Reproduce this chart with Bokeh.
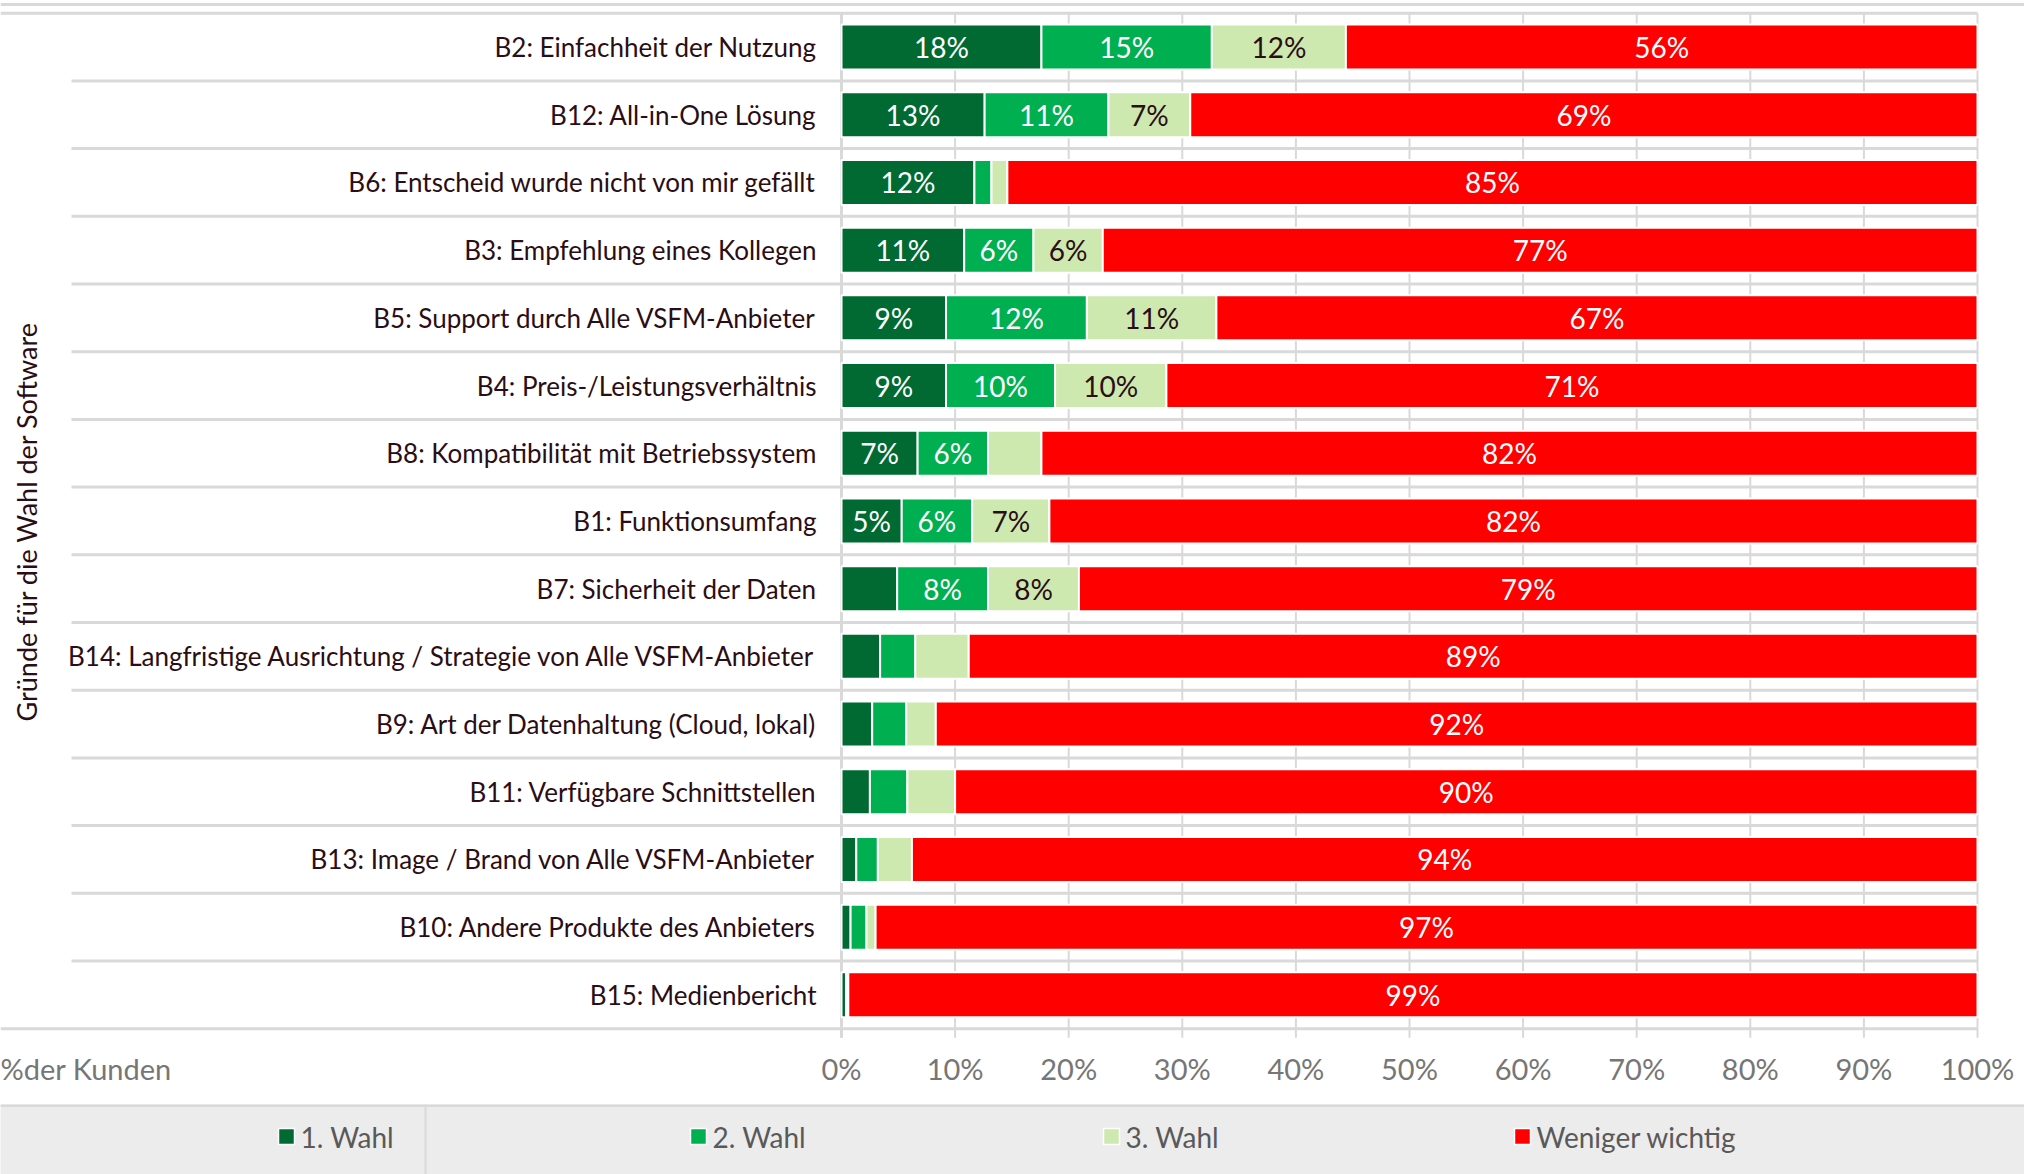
import math
from bokeh.plotting import figure
from bokeh.models import Range1d, ColumnDataSource, FixedTicker, CustomJSTickFormatter
from bokeh.layouts import column
from bokeh.embed import file_html
from bokeh.resources import INLINE
from bokeh.core.properties import value

# ---------------- data ----------------
categories = [
    "B2: Einfachheit der Nutzung",
    "B12: All-in-One Lösung",
    "B6: Entscheid wurde nicht von mir gefällt",
    "B3: Empfehlung eines Kollegen",
    "B5: Support durch Alle VSFM-Anbieter",
    "B4: Preis-/Leistungsverhältnis",
    "B8: Kompatibilität mit Betriebssystem",
    "B1: Funktionsumfang",
    "B7: Sicherheit der Daten",
    "B14: Langfristige Ausrichtung / Strategie von Alle VSFM-Anbieter",
    "B9: Art der Datenhaltung (Cloud, lokal)",
    "B11: Verfügbare Schnittstellen",
    "B13: Image / Brand von Alle VSFM-Anbieter",
    "B10: Andere Produkte des Anbieters",
    "B15: Medienbericht",
]
wahl1 = [17.6, 12.6, 11.7, 10.8, 9.2, 9.2, 6.7, 5.3, 4.9, 3.4, 2.7, 2.5, 1.3, 0.8, 0.4]
wahl2 = [15.0, 10.9, 1.5, 6.1, 12.4, 9.6, 6.2, 6.2, 8.0, 3.1, 3.0, 3.3, 1.9, 1.4, 0.1]
wahl3 = [11.8, 7.2, 1.4, 6.1, 11.4, 9.8, 4.7, 6.8, 8.0, 4.7, 2.6, 4.2, 3.0, 0.8, 0.1]
weniger = [55.6, 69.3, 85.4, 77.0, 67.0, 71.4, 82.4, 81.7, 79.1, 88.8, 91.7, 90.0, 93.8, 97.0, 99.4]

series_names = ["1. Wahl", "2. Wahl", "3. Wahl", "Weniger wichtig"]
series_keys = ["wahl1", "wahl2", "wahl3", "weniger"]
series_colors = ["#006a32", "#00b050", "#cde9af", "#ff0000"]
label_colors = ["#ffffff", "#ffffff", "#2b0d14", "#ffffff"]

x_ticks = [0, 10, 20, 30, 40, 50, 60, 70, 80, 90, 100]
y_title = "Gründe für die Wahl der Software"
x_title = "%der Kunden"

# ---------------- layout constants ----------------
FONT = "Lato"
W = 2024
PX = 11.36          # pixels per percent
X0 = 841            # canvas x of 0 %
ROW = 67.7          # pixels per row
ROW0 = 46.55        # canvas y of first row centre
FRAME_H = 1040
MAIN_H = 1104
LG_H = 70

n = len(categories)
ys = list(range(n))

src = ColumnDataSource(dict(y=ys, cat=categories, wahl1=wahl1, wahl2=wahl2,
                            wahl3=wahl3, weniger=weniger))

p = figure(width=W, height=MAIN_H,
           x_range=Range1d(-X0 / PX, (W - X0) / PX),
           y_range=Range1d((FRAME_H - ROW0) / ROW, -ROW0 / ROW),
           output_backend="svg", toolbar_location=None,
           min_border_left=0, min_border_right=0, min_border_top=0,
           min_border_bottom=MAIN_H - FRAME_H,
           y_axis_location=None, outline_line_color=None,
           background_fill_color="white", border_fill_color="white")
p.grid.grid_line_color = None

GRID = "#d9d9d9"
left_edge = -X0 / PX
sep_left = (71 - X0) / PX
tick_bottom = n - 0.5 + 9 / ROW

# top border line
p.segment(x0=[left_edge], y0=[(4 - ROW0) / ROW], x1=[(W - X0) / PX], y1=[(4 - ROW0) / ROW],
          line_color=GRID, line_width=3)
# vertical gridlines (incl. tick extension below)
p.segment(x0=x_ticks, y0=[-0.5] * len(x_ticks), x1=x_ticks,
          y1=[tick_bottom] * len(x_ticks), line_color=GRID, line_width=2)
# row separators
bounds = [i - 0.5 for i in range(n + 1)]
x0s = [left_edge if (b == -0.5 or b == n - 0.5) else sep_left for b in bounds]
p.segment(x0=x0s, y0=bounds, x1=[100] * len(bounds), y1=bounds,
          line_color=GRID, line_width=3)
# axis line at 0
p.segment(x0=[0], y0=[-0.5], x1=[0], y1=[tick_bottom],
          line_color=GRID, line_width=3)

# stacked bars
p.hbar_stack(series_keys, y="y", height=0.665, source=src,
             fill_color=series_colors, line_color="white", line_width=2)

# value labels
lx, ly, lt, lc = [], [], [], []
for i in range(n):
    left = 0.0
    for k, key in enumerate(series_keys):
        v = src.data[key][i]
        if v >= 5:
            lx.append(left + v / 2)
            ly.append(i)
            lt.append(f"{round(v)}%")
            lc.append(label_colors[k])
        left += v
p.text(x=lx, y=ly, text=lt, text_color=lc, text_align="center",
       text_baseline="middle", text_font=value(FONT), text_font_size="28px")

# category labels
p.text(x=[(816 - X0) / PX] * n, y=ys, text=categories, text_align="right",
       text_baseline="middle", text_color="#2b0d14",
       text_font=value(FONT), text_font_size="26px")

# y title
p.text(x=[(26 - X0) / PX], y=[(521 - ROW0) / ROW], text=[y_title], angle=math.pi / 2,
       text_align="center", text_baseline="middle", text_color="#2b0d14",
       text_font=value(FONT), text_font_size="27px")

# x axis
xa = p.xaxis[0]
xa.ticker = FixedTicker(ticks=[-67.5] + x_ticks)
xa.formatter = CustomJSTickFormatter(args=dict(t=x_title),
                                     code="return tick < 0 ? t : tick.toFixed(0) + '%';")
xa.axis_line_color = None
xa.major_tick_line_color = None
xa.minor_tick_line_color = None
xa.major_label_standoff = 4
xa.major_label_text_font = FONT
xa.major_label_text_font_size = "29px"
xa.major_label_text_color = "#767676"

# ---------------- legend band ----------------
lg = figure(width=W, height=LG_H, x_range=Range1d(0, W),
            y_range=Range1d(MAIN_H + LG_H, MAIN_H),
            output_backend="svg", toolbar_location=None, min_border=0,
            x_axis_location=None, y_axis_location=None, outline_line_color=None,
            background_fill_color="#ececec", border_fill_color="#ececec")
lg.grid.grid_line_color = None
lg.segment(x0=[0], y0=[MAIN_H + 1], x1=[W], y1=[MAIN_H + 1], line_color="#d9d9d9", line_width=3)
lg.segment(x0=[425], y0=[MAIN_H], x1=[425], y1=[MAIN_H + LG_H], line_color="#d9d9d9", line_width=2)
sq_x = [286, 698, 1111, 1522]
lg.scatter(x=sq_x, y=[1136] * 4, marker="square", size=16,
           fill_color=series_colors, line_color="white", line_width=1.5)
lg.text(x=[s + 14 for s in sq_x], y=[1136] * 4, text=series_names,
        text_align="left", text_baseline="middle", text_color="#595959",
        text_font=value(FONT), text_font_size="28px")

layout = column(p, lg, spacing=0)
open("out.html", "w").write(file_html(layout, INLINE))
